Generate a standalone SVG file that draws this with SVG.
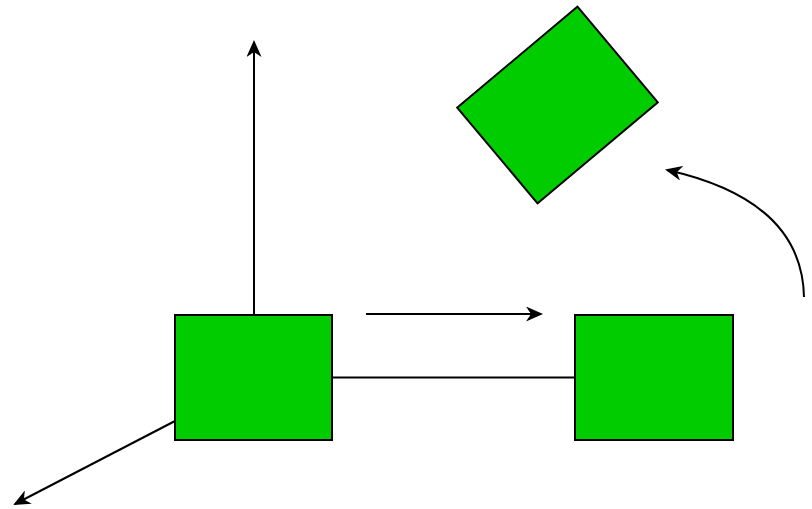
<svg xmlns="http://www.w3.org/2000/svg" width="812" height="509" viewBox="0 0 812 509">
  <style>
    .node { fill: #00cc00; stroke: #000; stroke-width: 2; }
    .edge { fill: none; stroke: #000; stroke-width: 2; }
    .arrow { marker-end: url(#head); }
  </style>
  <defs>
    <marker id="head" markerWidth="17" markerHeight="15" refX="15" refY="7.5" orient="auto" markerUnits="userSpaceOnUse" viewBox="0 0 17 15">
      <path d="M0,0 L17,7.5 L0,15 L5,7.5 z" fill="#000"/>
    </marker>
  </defs>
  <rect width="812" height="509" fill="#fff"/>
  <g id="connectors">
    <line class="edge" x1="332" y1="377.5" x2="575" y2="377.5"/>
    <line class="edge arrow" x1="254" y1="315" x2="254" y2="42"/>
    <line class="edge arrow" x1="366" y1="314" x2="541" y2="314"/>
    <line class="edge arrow" x1="175" y1="421" x2="15" y2="504"/>
    <path class="edge arrow" d="M804,297 Q802,200 667,170"/>
  </g>
  <g id="node-a">
    <rect class="node" x="175" y="315" width="157" height="125"/>
  </g>
  <g id="node-b">
    <rect class="node" x="575" y="315" width="158" height="125"/>
  </g>
  <g id="node-c">
    <rect class="node" x="479" y="42.5" width="157" height="125" transform="rotate(-40 557.5 105)"/>
  </g>
</svg>
